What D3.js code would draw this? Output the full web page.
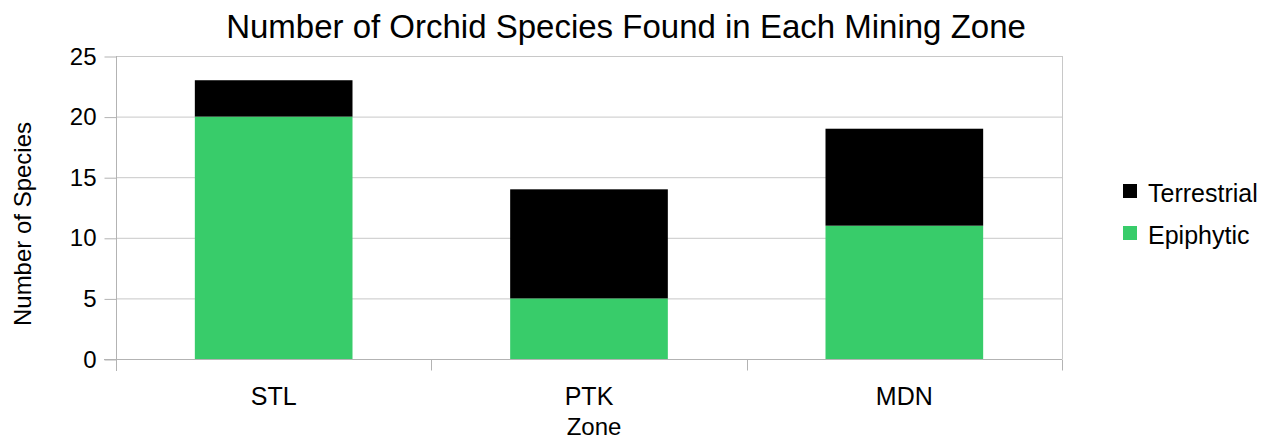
<!DOCTYPE html>
<html>
<head>
<meta charset="utf-8">
<script src="https://cdn.jsdelivr.net/npm/d3@7"></script>
<style>
  body { margin: 0; background: #fff; }
  text { font-family: "Liberation Sans", Arial, sans-serif; fill: #000; }
</style>
</head>
<body>
<script>
// Data
const zones = ["STL", "PTK", "MDN"];
const epiphytic = [20, 5, 11];
const terrestrial = [3, 9, 8];
const yTicks = [0, 5, 10, 15, 20, 25];
const seriesNames = ["Terrestrial", "Epiphytic"];

const width = 1272, height = 440;
const plot = { left: 116, right: 1062, top: 56, bottom: 359 };
const colors = { Epiphytic: "#38cc6a", Terrestrial: "#000000" };

const svg = d3.select("body").append("svg")
    .attr("width", width)
    .attr("height", height);

const x = d3.scaleBand()
    .domain(zones)
    .range([plot.left, plot.right])
    .paddingInner(0.5)
    .paddingOuter(0.25);

const y = d3.scaleLinear()
    .domain([0, 25])
    .range([plot.bottom, plot.top]);

// Stack the series (epiphytic at the bottom)
const rows = zones.map((z, i) => ({ zone: z, Epiphytic: epiphytic[i], Terrestrial: terrestrial[i] }));
const stacked = d3.stack().keys(["Epiphytic", "Terrestrial"])(rows);

// Horizontal grid lines
svg.append("g")
    .selectAll("line")
    .data(yTicks.filter(t => t > 0))
    .enter().append("line")
    .attr("x1", plot.left).attr("x2", plot.right)
    .attr("y1", d => y(d) + 0.5).attr("y2", d => y(d) + 0.5)
    .attr("stroke", "#c8c8c8");

// right border
svg.append("line")
    .attr("x1", plot.right + 0.5).attr("x2", plot.right + 0.5)
    .attr("y1", plot.top).attr("y2", plot.bottom)
    .attr("stroke", "#c8c8c8");

// Bars
svg.append("g")
    .selectAll("g")
    .data(stacked)
    .enter().append("g")
    .attr("fill", d => colors[d.key])
    .selectAll("rect")
    .data(d => d)
    .enter().append("rect")
    .attr("x", d => x(d.data.zone))
    .attr("width", x.bandwidth())
    .attr("y", d => y(d[1]))
    .attr("height", d => y(d[0]) - y(d[1]));

// Y axis
const yAxis = d3.axisLeft(y)
    .tickValues(yTicks)
    .tickSize(12)
    .tickPadding(8);
const gy = svg.append("g")
    .attr("transform", "translate(" + (plot.left + 0.5) + ",0.5)")
    .call(yAxis);
gy.select(".domain").attr("stroke", "#b3b3b3").attr("d", "M0," + (plot.bottom + 11.5) + "V" + (plot.top - 0.5));
gy.selectAll(".tick line").attr("stroke", "#b3b3b3");
gy.selectAll(".tick text").attr("font-size", 24).attr("font-family", "Liberation Sans, Arial, sans-serif").attr("fill", "#000");

// X axis
const gx = svg.append("g")
    .attr("transform", "translate(0," + (plot.bottom + 0.5) + ")");
gx.append("line")
    .attr("x1", plot.left - 12).attr("x2", plot.right)
    .attr("stroke", "#b3b3b3");
const seps = d3.range(zones.length + 1).map(i => plot.left + i * (plot.right - plot.left) / zones.length);
gx.selectAll("line.sep")
    .data(seps)
    .enter().append("line")
    .attr("class", "sep")
    .attr("x1", d => Math.round(d) + 0.5).attr("x2", d => Math.round(d) + 0.5)
    .attr("y1", 0).attr("y2", 11)
    .attr("stroke", "#b3b3b3");
gx.selectAll("text")
    .data(zones)
    .enter().append("text")
    .attr("x", d => x(d) + x.bandwidth() / 2)
    .attr("y", 45)
    .attr("text-anchor", "middle")
    .attr("font-size", 25)
    .text(d => d);

// Title
svg.append("text")
    .attr("x", 626)
    .attr("y", 38)
    .attr("text-anchor", "middle")
    .attr("font-size", 33)
    .text("Number of Orchid Species Found in Each Mining Zone");

// Axis titles
svg.append("text")
    .attr("x", 594)
    .attr("y", 435)
    .attr("text-anchor", "middle")
    .attr("font-size", 24)
    .text("Zone");

svg.append("text")
    .attr("transform", "translate(31,224) rotate(-90)")
    .attr("text-anchor", "middle")
    .attr("font-size", 24)
    .text("Number of Species");

// Legend
const legend = svg.append("g")
    .selectAll("g")
    .data(seriesNames)
    .enter().append("g")
    .attr("transform", (d, i) => "translate(1123," + (184 + i * 42) + ")");
legend.append("rect")
    .attr("width", 14).attr("height", 14)
    .attr("fill", d => colors[d]);
legend.append("text")
    .attr("x", 25)
    .attr("y", 18)
    .attr("font-size", 25)
    .text(d => d);
</script>
</body>
</html>
